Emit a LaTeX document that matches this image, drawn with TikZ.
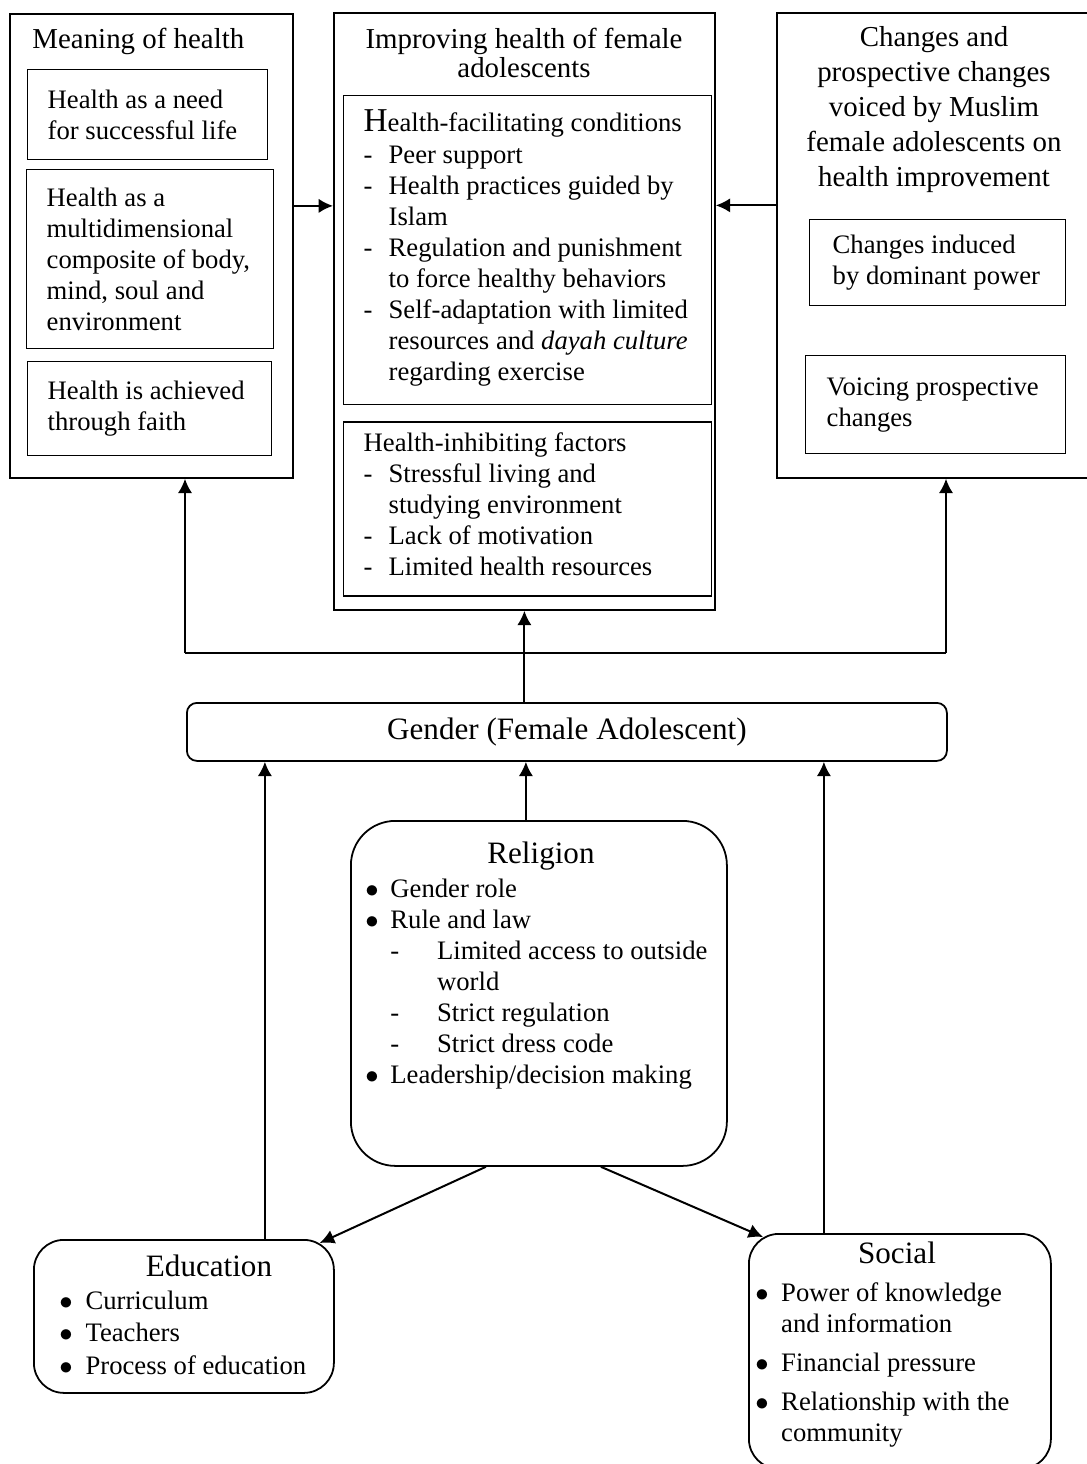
\documentclass[tikz,border=0pt]{standalone}
\usepackage{fontspec}
\setmainfont{Liberation Serif}
\usetikzlibrary{shapes,arrows.meta,positioning}
\tikzstyle{outer} = [rectangle, draw, line width=0.8pt, anchor=north west, inner sep=0pt]
\tikzstyle{block} = [rectangle, draw, line width=0.6pt, anchor=north west, align=flush left,
inner xsep=9pt, inner ysep=0pt, font=\fontsize{12}{14}\selectfont]
\tikzstyle{head} = [inner sep=0pt, align=center, font=\fontsize{13}{15}\selectfont]
\tikzstyle{theme} = [rectangle, draw, line width=0.8pt, anchor=north west, inner sep=0pt,
rounded corners=13.5pt, font=\fontsize{14}{16}\selectfont]
\tikzstyle{list} = [inner sep=0pt, anchor=north west, font=\fontsize{12}{14}\selectfont]
\tikzstyle{line} = [draw, line width=0.9pt, -{Latex[length=6.5pt,width=6.5pt]}]

\begin{document}
\begin{tikzpicture}[x=0.45pt, y=-0.45pt]
	\useasboundingbox (0,0) rectangle (1086,1464);
	% Meaning of health
	\node [outer, minimum width=127.35pt, minimum height=208.8pt] (meaning) at (9,13) {};
	\node [head, anchor=west] (meaningTitle) at (32,41) {Meaning of health};
	\node [block, text width=90pt, minimum height=40.5pt] (need) at (27,69) {Health as a need\\for successful life};
	\node [block, text width=93.15pt, minimum height=80.55pt] (multi) at (26,169) {Health as a\\multidimensional\\composite of body,\\mind, soul and\\environment};
	\node [block, text width=91.8pt, minimum height=42.3pt] (faith) at (27,361) {Health is achieved\\through faith};

	% Improving health
	\node [outer, minimum width=171.45pt, minimum height=268.65pt] (improving) at (333,12) {};
	\node [head, font=\fontsize{13}{11.7}\selectfont] (improvingTitle) at (524,53) {Improving health of female\\adolescents};
	\node [block, text width=147.6pt, minimum height=139.05pt] (facilitating) at (343,95) {{\fontsize{15}{14}\selectfont H}ealth-facilitating conditions\\
		\begin{tabular}[t]{@{}p{11.25pt}@{}l@{}}
			- & Peer support\\
			- & Health practices guided by\\
			& Islam\\
			- & Regulation and punishment\\
			& to force healthy behaviors\\
			- & Self-adaptation with limited\\
			& resources and \textit{dayah culture}\\
			& regarding exercise
		\end{tabular}};
	\node [block, below=7.2pt of facilitating, text width=147.6pt, minimum height=78.3pt] (inhibiting) {Health-inhibiting factors\\
		\begin{tabular}[t]{@{}p{11.25pt}@{}l@{}}
			- & Stressful living and\\
			& studying environment\\
			- & Lack of motivation\\
			- & Limited health resources
		\end{tabular}};

	% Changes
	\node [outer, minimum width=142.2pt, minimum height=209.25pt] (changes) at (776,12) {};
	\node [head, font=\fontsize{13}{15.75}\selectfont] (changesTitle) at (934,110) {Changes and\\prospective changes\\voiced by Muslim\\female adolescents on\\health improvement};
	\node [block, inner xsep=10.35pt, text width=94.5pt, minimum height=38.7pt] (induced) at (809,219) {Changes induced\\by dominant power};
	\node [block, inner xsep=9.45pt, text width=98.1pt, minimum height=44.1pt] (voicing) at (805,355) {Voicing prospective\\changes};

	% Gender
	\node [theme, rounded corners=4.5pt, minimum width=342pt, minimum height=26.1pt] (gender) at (186,702) {Gender (Female Adolescent)};

	% Religion
	\node [theme, rounded corners=20pt, minimum width=169.2pt, minimum height=155.25pt] (religion) at (350,820) {};
	\node [head, font=\fontsize{14}{16}\selectfont] (religionTitle) at (541,856) {Religion};
	\node [list] (religionList) at (365,875) {\begin{tabular}{@{}p{11.25pt}@{}p{21pt}@{}l@{}}
			$\bullet$ & \multicolumn{2}{@{}l@{}}{Gender role}\\
			$\bullet$ & \multicolumn{2}{@{}l@{}}{Rule and law}\\
			& - & Limited access to outside\\
			& & world\\
			& - & Strict regulation\\
			& - & Strict dress code\\
			$\bullet$ & \multicolumn{2}{@{}l@{}}{Leadership/decision making}
		\end{tabular}};

	% Education
	\node [theme, minimum width=135pt, minimum height=68.85pt] (education) at (33,1239) {};
	\node [head, font=\fontsize{14}{16}\selectfont] (educationTitle) at (209,1266) {Education};
	\node [list] (educationList) at (59,1287) {\begin{tabular}{@{}p{11.75pt}@{}l@{}}
			$\bullet$ & Curriculum\\[0.6pt]
			$\bullet$ & Teachers\\[0.6pt]
			$\bullet$ & Process of education
		\end{tabular}};

	% Social
	\node [theme, minimum width=135.9pt, minimum height=105.75pt] (social) at (748,1233) {};
	\node [head, font=\fontsize{14}{16}\selectfont] (socialTitle) at (897,1253) {Social};
	\node [list] (socialList) at (755,1279) {\begin{tabular}{@{}p{11.6pt}@{}l@{}}
			$\bullet$ & Power of knowledge\\
			& and information\\[3.6pt]
			$\bullet$ & Financial pressure\\[3.6pt]
			$\bullet$ & Relationship with the\\
			& community
		\end{tabular}};

	% Links between the top boxes
	\path [line] ([yshift=18pt]meaning.east) -- ([yshift=18pt]meaning.east -| improving.west);
	\path [line] ([yshift=18pt]changes.west) -- ([yshift=18pt]changes.west -| improving.east);

	% Gender feeds the top row
	\coordinate (forkL) at (185,653);
	\coordinate (forkR) at (946,653);
	\draw [line width=0.9pt] (forkL) -- (forkR);
	\path [line] (forkL) -- (forkL |- meaning.south);
	\path [line] (forkR) -- (forkR |- changes.south);
	\path [line] (improving.south |- gender.north) -- (improving.south);

	% Influences on gender
	\path [line] ([xshift=36.45pt]education.north) -- ([xshift=36.45pt]education.north |- gender.south);
	\path [line] ([xshift=-5.85pt]religion.north) -- ([xshift=-5.85pt]religion.north |- gender.south);
	\path [line] ([xshift=-34.2pt]social.north) -- ([xshift=-34.2pt]social.north |- gender.south);
	\path [line] ([xshift=-23.85pt]religion.south) -- ([xshift=-6.75pt,yshift=-1.8pt]education.north east);
	\path [line] ([xshift=27.9pt]religion.south) -- ([xshift=6.75pt,yshift=-1.8pt]social.north west);
\end{tikzpicture}
\end{document}
